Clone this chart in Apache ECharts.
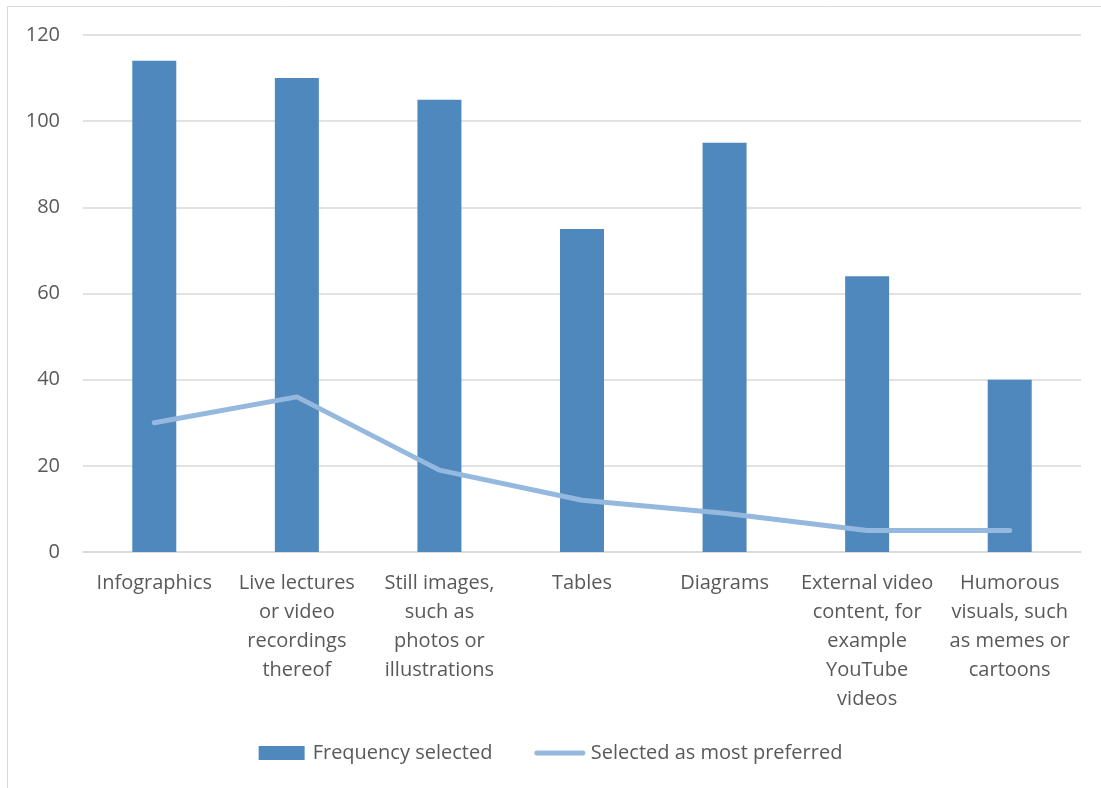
<!DOCTYPE html>
<html>
<head>
<meta charset="utf-8">
<script src="https://cdn.jsdelivr.net/npm/echarts@6/dist/echarts.min.js"></script>
<style>
  html, body { margin: 0; padding: 0; background: #fff; }
  #chart { width: 1101px; height: 788px; }
</style>
</head>
<body>
<div id="chart"></div>
<script>
// Categories and the wrapped labels shown under each one
const categories = [
  'Infographics',
  'Live lectures or video recordings thereof',
  'Still images, such as photos or illustrations',
  'Tables',
  'Diagrams',
  'External video content, for example YouTube videos',
  'Humorous visuals, such as memes or cartoons'
];
const categoryLabels = [
  'Infographics',
  'Live lectures\nor video\nrecordings\nthereof',
  'Still images,\nsuch as\nphotos or\nillustrations',
  'Tables',
  'Diagrams',
  'External video\ncontent, for\nexample\nYouTube\nvideos',
  'Humorous\nvisuals, such\nas memes or\ncartoons'
];

// Series values
const frequencySelected = [114, 110, 105, 75, 95, 64, 40];
const mostPreferred = [30, 36, 19, 12, 9, 5, 5];

// Value axis ticks
const yTicks = [0, 20, 40, 60, 80, 100, 120];

const FONT = '"Open Sans", "Liberation Sans", sans-serif';
const TEXT = '#595959';
const BAR = '#4f88bc';
const LINE = '#95b8df';

const chart = echarts.init(document.getElementById('chart'), null, { renderer: 'canvas' });

chart.setOption({
  animation: false,
  backgroundColor: '#fff',
  graphic: [{
    type: 'rect',
    shape: { x: 7.5, y: 6.5, width: 1200, height: 900 },
    style: { fill: 'none', stroke: '#d9d9d9', lineWidth: 1 },
    silent: true,
    z: -1
  }],
  grid: { left: 83, right: 20, top: 35, bottom: 236, containLabel: false },
  legend: {
    bottom: 20,
    left: 'center',
    itemWidth: 46,
    itemHeight: 14,
    itemGap: 42,
    textStyle: { color: TEXT, fontFamily: FONT, fontSize: 20, padding: [0, 0, 0, 3] },
    data: [
      { name: 'Frequency selected', icon: 'rect' },
      {
        name: 'Selected as most preferred',
        itemStyle: { opacity: 0 },
        lineStyle: { color: LINE, width: 5, cap: 'round' }
      }
    ]
  },
  xAxis: {
    type: 'category',
    data: categories,
    axisLine: { show: true, lineStyle: { color: '#d9d9d9', width: 1.5 } },
    axisTick: { show: false },
    axisLabel: {
      interval: 0,
      margin: 17,
      color: TEXT,
      fontFamily: FONT,
      fontSize: 20,
      lineHeight: 29,
      formatter: (v, i) => categoryLabels[i]
    }
  },
  yAxis: {
    type: 'value',
    min: yTicks[0],
    max: yTicks[yTicks.length - 1],
    interval: yTicks[1] - yTicks[0],
    axisLine: { show: false },
    axisTick: { show: false },
    splitLine: { lineStyle: { color: '#d9d9d9', width: 1.5 } },
    axisLabel: {
      margin: 23,
      color: TEXT,
      fontFamily: FONT,
      fontSize: 20
    }
  },
  series: [
    {
      name: 'Frequency selected',
      type: 'bar',
      data: frequencySelected,
      barWidth: 44,
      itemStyle: { color: BAR },
      z: 2
    },
    {
      name: 'Selected as most preferred',
      type: 'line',
      data: mostPreferred,
      symbol: 'none',
      lineStyle: { color: LINE, width: 5, cap: 'round', join: 'round' },
      itemStyle: { color: LINE },
      z: 3
    }
  ]
});
</script>
</body>
</html>
